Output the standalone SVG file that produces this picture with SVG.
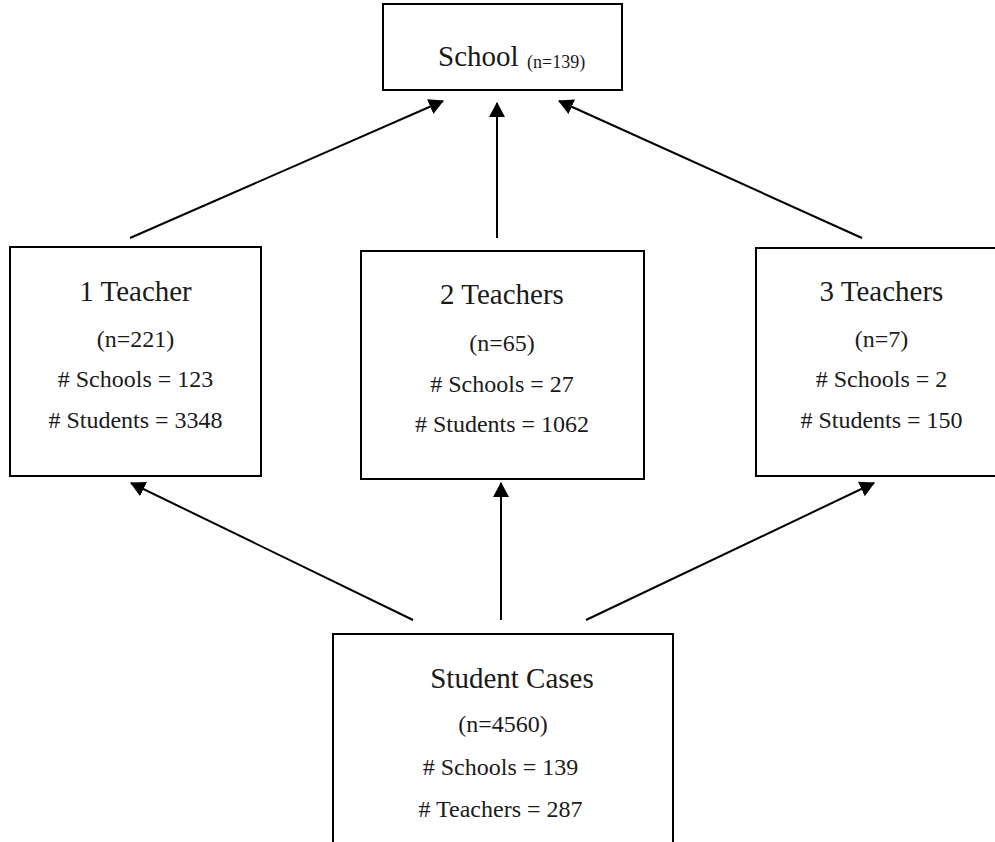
<svg xmlns="http://www.w3.org/2000/svg" width="995" height="842" viewBox="0 0 995 842">
  <style>
    .box { fill: #ffffff; stroke: #000000; stroke-width: 2; }
    .edge { stroke: #000000; stroke-width: 2; fill: none; marker-end: url(#arrow); }
    text { font-family: "Liberation Serif", "Times New Roman", serif; fill: #1a1a1a; }
    .title { font-size: 29px; text-anchor: middle; }
    .info { font-size: 24px; text-anchor: middle; }
    .small { font-size: 18px; }
  </style>
  <defs>
    <marker id="arrow" viewBox="0 0 15 16" markerWidth="15" markerHeight="16" refX="14" refY="8" orient="auto" markerUnits="userSpaceOnUse">
      <path d="M0,0 L15,8 L0,16 z" fill="#000000"/>
    </marker>
  </defs>

  <rect x="0" y="0" width="995" height="842" fill="#ffffff"/>

  <!-- connectors -->
  <g id="connectors">
    <line class="edge" x1="130" y1="238" x2="443" y2="101"/>
    <line class="edge" x1="497" y1="238" x2="497" y2="103"/>
    <line class="edge" x1="862" y1="238" x2="559" y2="101"/>
    <line class="edge" x1="413" y1="620" x2="131" y2="483"/>
    <line class="edge" x1="501" y1="620" x2="501" y2="483"/>
    <line class="edge" x1="586" y1="620" x2="874" y2="483"/>
  </g>

  <!-- top: school level -->
  <g id="school">
    <rect class="box" x="383" y="4" width="239" height="86"/>
    <text x="438" y="66" font-size="29px">School<tspan class="small" x="527" y="68">(n=139)</tspan></text>
  </g>

  <!-- middle: teacher groups -->
  <g id="teacher1">
    <rect class="box" x="10" y="247" width="251" height="229"/>
    <text class="title" x="135.5" y="301">1 Teacher</text>
    <text class="info" x="135.5" y="347">(n=221)</text>
    <text class="info" x="135.5" y="387"># Schools = 123</text>
    <text class="info" x="135.5" y="428"># Students = 3348</text>
  </g>

  <g id="teacher2">
    <rect class="box" x="361" y="251" width="283" height="228"/>
    <text class="title" x="502" y="304">2 Teachers</text>
    <text class="info" x="502" y="351">(n=65)</text>
    <text class="info" x="502" y="392"># Schools = 27</text>
    <text class="info" x="502" y="432"># Students = 1062</text>
  </g>

  <g id="teacher3">
    <rect class="box" x="756" y="248" width="262" height="228"/>
    <text class="title" x="881.5" y="301">3 Teachers</text>
    <text class="info" x="881.5" y="347">(n=7)</text>
    <text class="info" x="881.5" y="387"># Schools = 2</text>
    <text class="info" x="881.5" y="428"># Students = 150</text>
  </g>

  <!-- bottom: student cases -->
  <g id="students">
    <rect class="box" x="333" y="634" width="340" height="230"/>
    <text class="title" x="512" y="688">Student Cases</text>
    <text class="info" x="503" y="732">(n=4560)</text>
    <text class="info" x="500.5" y="775"># Schools = 139</text>
    <text class="info" x="500.5" y="817"># Teachers = 287</text>
  </g>
</svg>
